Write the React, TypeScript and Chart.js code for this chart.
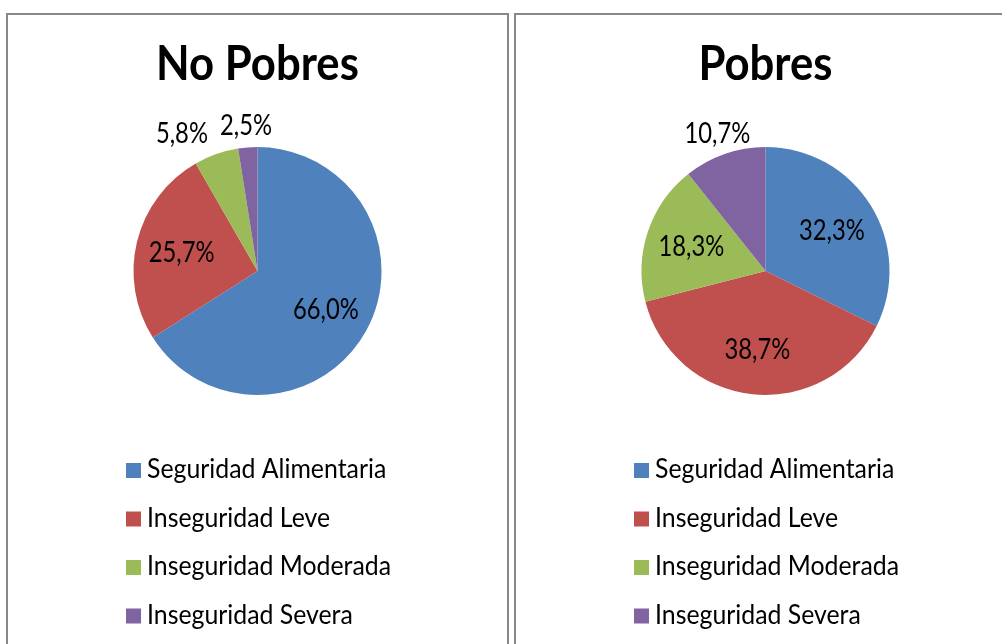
import React, { useEffect, useRef } from "react";
import { Chart, registerables } from "chart.js";

Chart.register(...registerables);

const categories = ["Seguridad Alimentaria", "Inseguridad Leve", "Inseguridad Moderada", "Inseguridad Severa"];
const noPobresValues = [66.0, 25.7, 5.8, 2.5];
const pobresValues = [32.3, 38.7, 18.3, 10.7];
const panelTitles = ["No Pobres", "Pobres"];
const sliceColors = ["#4F81BD", "#C0504D", "#9BBB59", "#8064A2"];

const FONT = "Lato, 'Open Sans', sans-serif";
const CANVAS_W = 499;
const CANVAS_H = 640;

function drawText(ctx: CanvasRenderingContext2D, text: string, x: number, y: number, font: string, sx: number, align: "left" | "center") {
  ctx.save();
  ctx.font = font;
  ctx.textAlign = align;
  ctx.textBaseline = "alphabetic";
  ctx.translate(x, y);
  ctx.scale(sx, 1);
  ctx.fillText(text, 0, 0);
  ctx.restore();
}

const TITLE_FONT = `bold 48px ${FONT}`;
const TITLE_SX = 0.91;
const LABEL_FONT = `28px ${FONT}`;
const LABEL_SX = 0.85;
const LEGEND_FONT = `27px ${FONT}`;
const LEGEND_SX = 0.92;

const overlayPlugin = {
  id: "overlay",
  afterDraw(chart: any) {
    const ctx = chart.ctx as CanvasRenderingContext2D;
    const title = chart.options.plugins.overlay.title;
    ctx.save();
    ctx.fillStyle = "#000";
    drawText(ctx, title, chart.width / 2, 65, TITLE_FONT, TITLE_SX, "center");

    // labels
    const meta = chart.getDatasetMeta(0);
    const data = chart.data.datasets[0].data as number[];
    const total = data.reduce((a, b) => a + b, 0);
    ctx.font = LABEL_FONT;
    const items: any[] = [];
    meta.data.forEach((arc: any, i: number) => {
      const p = arc.getProps(["x", "y", "startAngle", "endAngle", "outerRadius"], true);
      const mid = (p.startAngle + p.endAngle) / 2;
      const pct = (data[i] / total) * 100;
      const text = pct.toFixed(1).replace(".", ",") + "%";
      const w = ctx.measureText(text).width * LABEL_SX;
      const outside = pct < 12;
      const r = outside ? p.outerRadius + 22 : p.outerRadius * 0.63;
      items.push({ i, text, w, outside, x: p.x + Math.cos(mid) * r, y: p.y + Math.sin(mid) * r });
    });
    const placed: any[] = [];
    items
      .filter((it) => it.outside)
      .sort((a, b) => b.i - a.i)
      .forEach((it) => {
        for (const q of placed) {
          const overlapX = Math.abs(it.x - q.x) < (it.w + q.w) / 2 + 12;
          const overlapY = Math.abs(it.y - q.y) < 24;
          if (overlapX && overlapY) {
            it.x = q.x - q.w / 2 - 12 - it.w / 2;
          }
        }
        placed.push(it);
      });
    items.forEach((it) => drawText(ctx, it.text, it.x, it.y + 10, LABEL_FONT, LABEL_SX, "center"));

    // legend
    const labels = chart.data.labels as string[];
    labels.forEach((lab, i) => {
      const base = 463 + i * 48.5;
      ctx.fillStyle = sliceColors[i];
      ctx.fillRect(118, base - 15, 15, 15);
      ctx.fillStyle = "#000";
      drawText(ctx, lab, 139, base, LEGEND_FONT, LEGEND_SX, "left");
    });
    ctx.restore();
  },
};

function PiePanel({ title, values, style }: { title: string; values: number[]; style: any }) {
  const ref = useRef<HTMLCanvasElement>(null);
  useEffect(() => {
    const chart = new Chart(ref.current as HTMLCanvasElement, {
      type: "pie",
      data: {
        labels: categories,
        datasets: [
          {
            data: values,
            backgroundColor: sliceColors,
            borderColor: "#ffffff",
            borderWidth: 0,
          },
        ],
      },
      options: {
        animation: false,
        responsive: false,
        layout: { padding: { top: 132, bottom: CANVAS_H - 380, left: 0, right: 0 } },
        plugins: {
          legend: { display: false },
          title: { display: false },
          tooltip: { enabled: false },
          overlay: { title },
        } as any,
      },
      plugins: [overlayPlugin],
    });
    return () => chart.destroy();
  }, []);
  return (
    <div
      style={{
        position: "absolute",
        border: "2px solid #888",
        background: "#fff",
        width: CANVAS_W,
        height: CANVAS_H,
        ...style,
      }}
    >
      <canvas ref={ref} width={CANVAS_W} height={CANVAS_H} style={{ display: "block" }} />
    </div>
  );
}

export default function App() {
  return (
    <div
      style={{
        position: "fixed",
        left: 0,
        top: 0,
        width: 1002,
        height: 644,
        overflow: "hidden",
        background: "#fff",
      }}
    >
      <PiePanel title={panelTitles[0]} values={noPobresValues} style={{ left: 6, top: 13 }} />
      <PiePanel title={panelTitles[1]} values={pobresValues} style={{ left: 514, top: 13 }} />
    </div>
  );
}
